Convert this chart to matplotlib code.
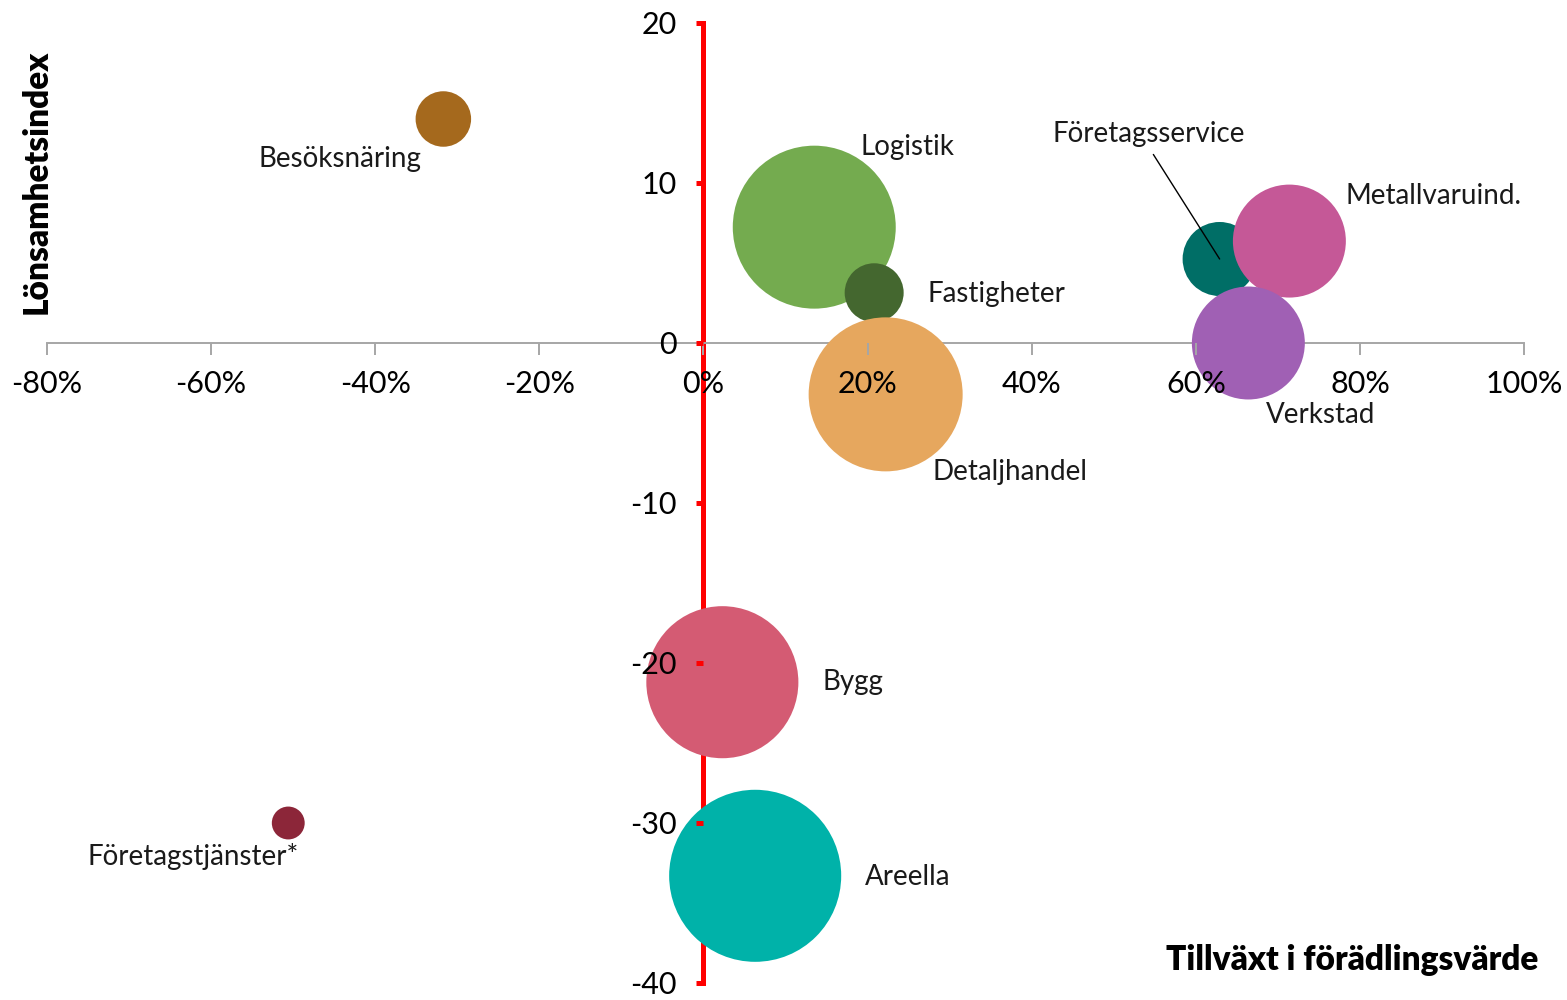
import numpy as np
import matplotlib.pyplot as plt
from matplotlib.ticker import PercentFormatter, MultipleLocator

# bransch, tillväxt i förädlingsvärde (andel), lönsamhetsindex, bubbelstorlek
branscher = ['Besöksnäring', 'Logistik', 'Fastigheter', 'Detaljhandel', 'Företagsservice',
             'Metallvaruind.', 'Verkstad', 'Bygg', 'Areella', 'Företagstjänster*']
tillvaxt = [-0.317, 0.135, 0.208, 0.222, 0.629, 0.714, 0.664, 0.023, 0.063, -0.506]
lonsamhet = [14.0, 7.24, 3.14, -3.21, 5.25, 6.37, 0.0, -21.2, -33.3, -30.0]
storlek = [7.7, 66.4, 8.7, 59.3, 13.7, 31.9, 31.9, 57.8, 74.0, 2.7]
farger = ['#A5691D', '#74AB4F', '#44672F', '#E6A75E', '#006E66',
          '#C55897', '#A060B4', '#D45B73', '#00B2A9', '#8C2639']

# label offsets (pixels) and alignment
offs = [(-22, -40, 'right'), (46, 80, 'left'), (53, -1, 'left'), (47, -78, 'left'),
        (-71, 125, 'center'), (56, 45, 'left'), (18, -72, 'left'), (100, 0, 'left'),
        (110, -1, 'left'), (-201, -33, 'left')]

plt.rcParams.update({
    'font.family': ['Lato', 'DejaVu Sans'],
    'axes.unicode_minus': False,
})

fig = plt.figure(figsize=(15.67, 10), dpi=100)
ax = fig.add_axes([0.030, 0.017, 0.9426, 0.960])

# bubble area proportional to size, diameter in points
s = (2 * np.sqrt(np.array(storlek) * 100) * 0.72) ** 2
ax.scatter(tillvaxt, lonsamhet, s=s, c=farger, linewidths=0, zorder=2)

ax.set_xlim(-0.8, 1.0)
ax.set_ylim(-40, 20)
ax.xaxis.set_major_locator(MultipleLocator(0.2))
ax.xaxis.set_major_formatter(PercentFormatter(xmax=1, decimals=0))
ax.yaxis.set_major_locator(MultipleLocator(10))

for sp in ['top', 'right']:
    ax.spines[sp].set_visible(False)
ax.spines['left'].set_position(('data', 0))
ax.spines['bottom'].set_position(('data', 0))
ax.spines['left'].set_color('#FF0000')
ax.spines['left'].set_linewidth(3.6)
ax.spines['bottom'].set_color('#A6A6A6')
ax.spines['bottom'].set_linewidth(1.4)
ax.spines['left'].set_zorder(1)
ax.spines['bottom'].set_zorder(1)

ax.tick_params(axis='x', direction='out', length=8.5, width=1.4, color='#A6A6A6',
               labelsize=22, pad=11)
ax.tick_params(axis='y', direction='out', length=5, width=3.6, color='#FF0000',
               labelsize=22, pad=14)
# tick labels drawn above the bubbles
ax.xaxis.set_zorder(4)
ax.yaxis.set_zorder(4)

for i, namn in enumerate(branscher):
    dx, dy, ha = offs[i]
    if namn == 'Företagsservice':
        ax.annotate(namn, (tillvaxt[i], lonsamhet[i]), xytext=(dx, dy),
                    textcoords='offset pixels', ha=ha, va='center', fontsize=20,
                    color='#1A1A1A', zorder=6,
                    arrowprops=dict(arrowstyle='-', color='black', lw=1,
                                    relpos=(0.5, 0), shrinkA=4, shrinkB=0))
    else:
        ax.annotate(namn, (tillvaxt[i], lonsamhet[i]), xytext=(dx, dy),
                    textcoords='offset pixels', ha=ha, va='center', fontsize=20,
                    color='#1A1A1A', zorder=6)

fig.text(37 / 1567, 1 - 182 / 1000, 'Lönsamhetsindex', rotation=90, ha='center',
         va='center', fontsize=24, fontweight='heavy')
fig.text(1538 / 1567, 1 - 960 / 1000, 'Tillväxt i förädlingsvärde', ha='right',
         va='center', fontsize=24, fontweight='heavy')

fig.savefig('out.png', dpi=100)
